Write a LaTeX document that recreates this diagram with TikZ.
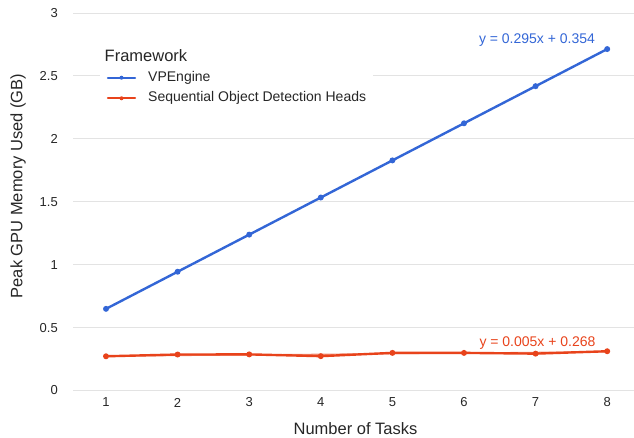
\documentclass[tikz,border=0pt]{standalone}
\usepackage{fontspec}
\setmainfont{Liberation Sans}
\definecolor{sblue}{HTML}{3366D6}
\definecolor{sred}{HTML}{E8431B}
\definecolor{grid}{HTML}{E3E3E3}
\tikzset{
  gridline/.style={draw=grid, line width=1pt},
  ticklab/.style={font=\fontsize{13}{15}\selectfont, text=black!85, inner sep=0pt},
  axtitle/.style={font=\fontsize{16.5}{19}\selectfont, text=black!85, inner sep=0pt},
  series/.style={line width=2.4pt, line join=round, line cap=round},
  dot/.style={circle, fill, inner sep=0pt, minimum size=6pt},
  eqlab/.style={font=\fontsize{14}{16}\selectfont, inner sep=0pt},
  leglab/.style={font=\fontsize{14}{16}\selectfont, text=black!85, inner sep=0pt, anchor=west},
}
\begin{document}
\begin{tikzpicture}[x=1pt,y=1pt]
\useasboundingbox (0,0) rectangle (634,438);
% y-axis: value v -> 47.5 + 125.8 v ; x: n -> 106 + 71.6 (n-1)
\foreach \v/\l in {0/0,0.5/0.5,1/1,1.5/1.5,2/2,2.5/2.5,3/3}{
  \draw[gridline] (73,{47.5+125.8*\v}) -- (634,{47.5+125.8*\v});
  \node[ticklab, anchor=east] at (58,{47.5+125.8*\v}) {\l};
}
\foreach \n in {1,...,8}{
  \node[ticklab] at ({106+71.6*(\n-1)},35.5) {\n};
}
\node[axtitle] (xt) at (355.5,9) {Number of Tasks};
\node[axtitle, rotate=90] (yt) at (18,252) {Peak GPU Memory Used (GB)};
% legend background
\fill[white] (100,330) rectangle (373,370);
\node[font=\fontsize{16.5}{19}\selectfont, text=black!85, anchor=west, inner sep=0pt] (lt) at (104.5,382) {Framework};
\coordinate (lb1) at (108,360.3); \coordinate (lb2) at (135,360.3);
\draw[series, sblue, line width=2.2pt] (lb1) -- (lb2);
\node[dot, sblue, minimum size=4pt] at (121.5,360.3) {};
\node[leglab] (l1) at (148,360.3) {VPEngine};
\coordinate (lr1) at (108,339.7); \coordinate (lr2) at (135,339.7);
\draw[series, sred, line width=2.2pt] (lr1) -- (lr2);
\node[dot, sred, minimum size=4pt] at (121.5,339.7) {};
\node[leglab] (l2) at (148,339.7) {Sequential Object Detection Heads};
% trendline sequential (thin)
\draw[sred!60, line width=1.2pt] ({106},{47.5+125.8*0.273}) -- ({607.2},{47.5+125.8*0.308});
% series data
\foreach \n/\v in {1/0.649,2/0.944,3/1.239,4/1.534,5/1.829,6/2.124,7/2.419,8/2.714}{
  \coordinate (b\n) at ({106+71.6*(\n-1)},{47.5+125.8*\v});
}
\foreach \n/\v in {1/0.272,2/0.286,3/0.287,4/0.273,5/0.299,6/0.299,7/0.293,8/0.312}{
  \coordinate (r\n) at ({106+71.6*(\n-1)},{47.5+125.8*\v});
}
\draw[series, sblue] (b1)--(b2)--(b3)--(b4)--(b5)--(b6)--(b7)--(b8);
\foreach \n in {1,...,8}{\node[dot, sblue] at (b\n) {};}
\draw[series, sred] (r1)--(r2)--(r3)--(r4)--(r5)--(r6)--(r7)--(r8);
\foreach \n in {1,...,8}{\node[dot, sred] at (r\n) {};}
% trendline equations
\node[eqlab, text=sblue] (e1) at (537,398) {y = 0.295x + 0.354};
\node[eqlab, text=sred] (e2) at (537.5,95) {y = 0.005x + 0.268};
\end{tikzpicture}
\end{document}
